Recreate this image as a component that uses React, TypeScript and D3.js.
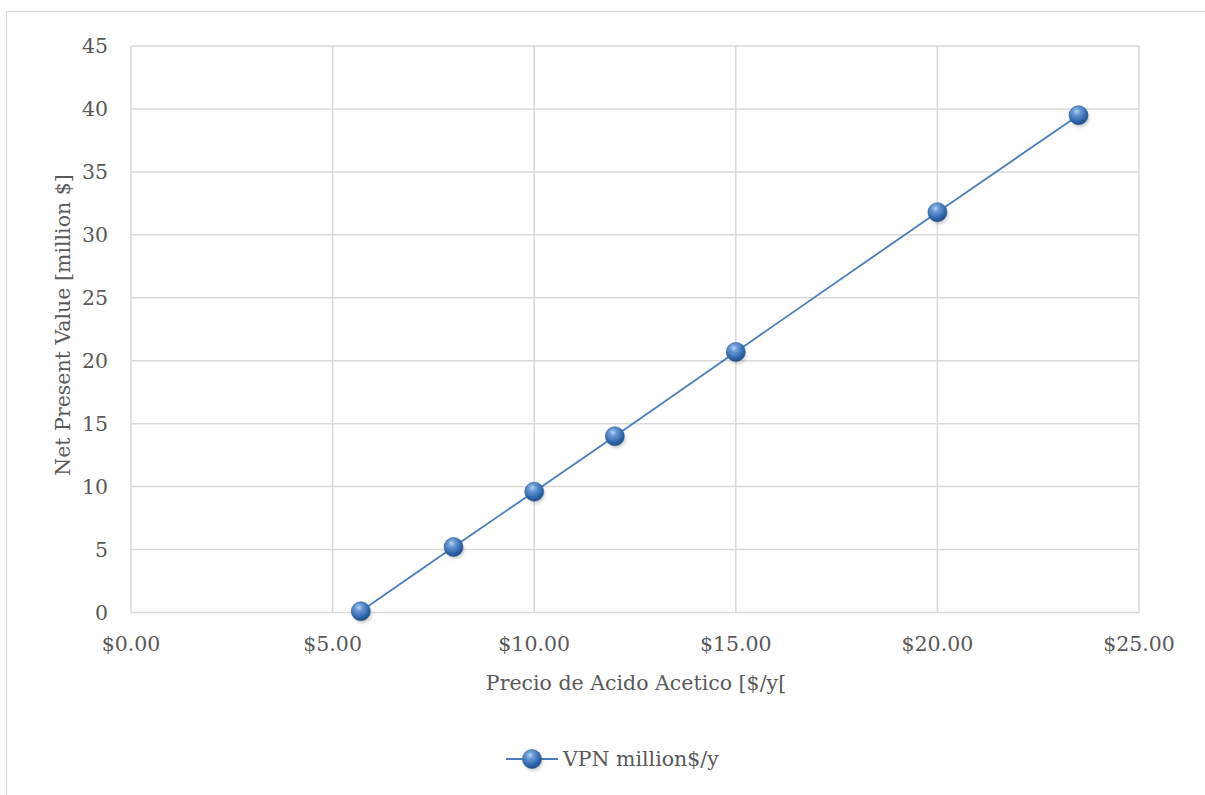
import React from "react";
import * as d3 from "d3";

// Acetic acid price ($) vs. net present value (million $)
const prices = [5.7, 8, 10, 12, 15, 20, 23.5];
const npvValues = [0.1, 5.2, 9.6, 14.0, 20.7, 31.8, 39.5];
const xTicks = [0, 5, 10, 15, 20, 25];
const yTicks = [0, 5, 10, 15, 20, 25, 30, 35, 40, 45];
const seriesName = "VPN million$/y";
const xTitle = "Precio de Acido Acetico [$/y[";
const yTitle = "Net Present Value [million $]";

const W = 1205;
const H = 795;
const plot = { left: 131, right: 1139, top: 46, bottom: 612.5 };
const FONT = "'DejaVu Serif', serif";
const FS = 20.5;
const TEXT = "#595959";
const GRID = "#d9d9d9";
const LINE = "#4a7ebb";

export default function App() {
  const x = d3.scaleLinear().domain([0, 25]).range([plot.left, plot.right]);
  const y = d3.scaleLinear().domain([0, 45]).range([plot.bottom, plot.top]);
  const pts = prices.map((p, i) => [p, npvValues[i]] as [number, number]);
  const line = d3
    .line<[number, number]>()
    .x((d) => x(d[0]))
    .y((d) => y(d[1]));
  const fmt = (v: number) => "$" + d3.format(".2f")(v);
  const r = 9.5;

  const Marker = ({ cx, cy }: { cx: number; cy: number }) => (
    <g>
      <circle cx={cx + 1.5} cy={cy + 2.5} r={r} fill="rgba(0,0,0,0.18)" filter="url(#mshadow)" />
      <circle cx={cx} cy={cy} r={r} fill="url(#sphere)" stroke="#2c5a8f" strokeWidth={0.6} />
    </g>
  );

  return (
    <svg
      width={W}
      height={H}
      style={{ position: "absolute", left: 0, top: 0, display: "block", background: "#fff" }}
    >
      <defs>
        <radialGradient id="sphere" cx="0.4" cy="0.3" r="0.75">
          <stop offset="0" stopColor="#b7d3f2" />
          <stop offset="0.25" stopColor="#6a9ad6" />
          <stop offset="0.7" stopColor="#2f66ad" />
          <stop offset="1" stopColor="#1d467c" />
        </radialGradient>
        <filter id="mshadow" x="-50%" y="-50%" width="200%" height="200%">
          <feGaussianBlur stdDeviation="1.8" />
        </filter>
      </defs>
      <rect x={6.5} y={11.5} width={W} height={H} fill="#fff" stroke={GRID} strokeWidth={1.3} />

      {/* gridlines */}
      {yTicks.map((t) => (
        <line key={"gy" + t} x1={plot.left} x2={plot.right} y1={y(t)} y2={y(t)} stroke={GRID} strokeWidth={1.5} />
      ))}
      {xTicks.map((t) => (
        <line key={"gx" + t} x1={x(t)} x2={x(t)} y1={plot.top} y2={plot.bottom} stroke={GRID} strokeWidth={1.5} />
      ))}

      {/* tick labels */}
      {yTicks.map((t) => (
        <text key={"ly" + t} x={plot.left - 23} y={y(t)} dy="0.36em" textAnchor="end" fontFamily={FONT} fontSize={FS} fill={TEXT}>
          {t}
        </text>
      ))}
      {xTicks.map((t) => (
        <text key={"lx" + t} x={x(t)} y={plot.bottom + 38} textAnchor="middle" fontFamily={FONT} fontSize={FS} fill={TEXT}>
          {fmt(t)}
        </text>
      ))}

      {/* axis titles */}
      <text x={636} y={690} textAnchor="middle" fontFamily={FONT} fontSize={FS} fill={TEXT}>
        {xTitle}
      </text>
      <text
        transform={`translate(70,325) rotate(-90)`}
        textAnchor="middle"
        fontFamily={FONT}
        fontSize={FS}
        fill={TEXT}
      >
        {yTitle}
      </text>

      {/* series */}
      <path d={line(pts) ?? ""} fill="none" stroke={LINE} strokeWidth={1.8} />
      {pts.map((d, i) => (
        <Marker key={i} cx={x(d[0])} cy={y(d[1])} />
      ))}

      {/* legend */}
      <line x1={506} x2={558} y1={759} y2={759} stroke={LINE} strokeWidth={1.8} />
      <Marker cx={532} cy={759} />
      <text x={563} y={759} dy="0.36em" fontFamily={FONT} fontSize={FS} fill={TEXT}>
        {seriesName}
      </text>
    </svg>
  );
}
